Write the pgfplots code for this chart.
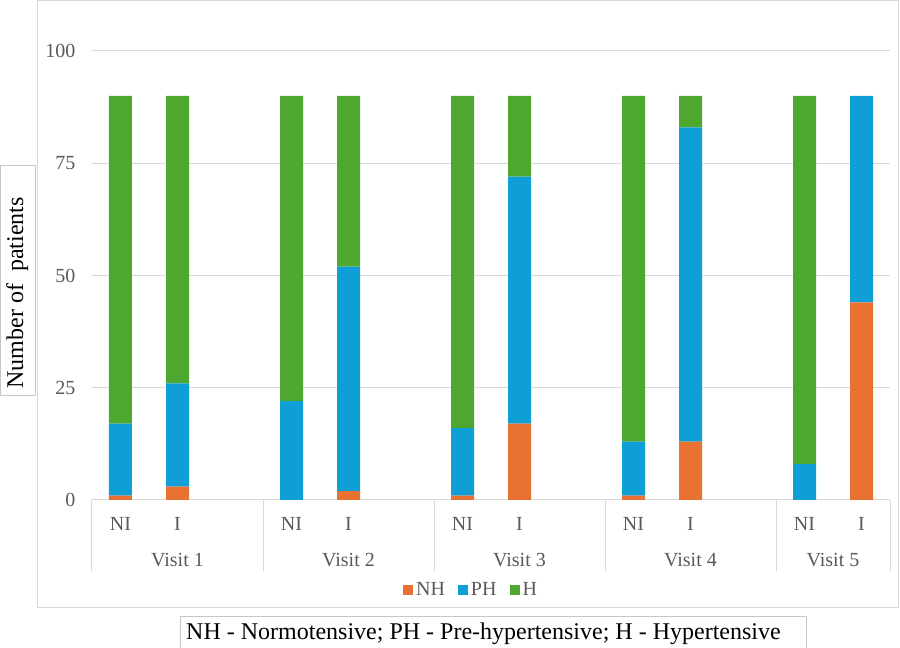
\documentclass[border=0pt]{standalone}
\usepackage{fontspec}
\setmainfont{Liberation Serif}
\usepackage{pgfplots}
\pgfplotsset{compat=1.18}
\definecolor{cNH}{HTML}{E97132}
\definecolor{cPH}{HTML}{0F9ED5}
\definecolor{cH}{HTML}{4EA72E}
\definecolor{tickgray}{HTML}{595959}
\definecolor{gridgray}{HTML}{D9D9D9}
\begin{document}
\begin{tikzpicture}
\useasboundingbox (-69pt,-111pt) rectangle (606pt,375pt);
\draw[gridgray, line width=0.75pt] (-40.5pt,-81pt) rectangle (605pt,374.6pt);
\begin{axis}[
  at={(0pt,0pt)}, anchor=south west,
  scale only axis, width=598.5pt, height=336.75pt,
  ybar stacked, bar width=17.25pt,
  xmin=-0.5, xmax=13.5, ymin=0, ymax=100,
  clip=false,
  ytick={0,25,50,75,100},
  xtick={0,1,3,4,6,7,9,10,12,13},
  xticklabels={NI,I,NI,I,NI,I,NI,I,NI,I},
  axis line style={draw=none},
  major tick length=0pt,
  ymajorgrids,
  grid style={gridgray, line width=0.75pt},
  yticklabel style={font=\fontsize{15pt}{18pt}\selectfont, text=tickgray, xshift=-9pt},
  xticklabel style={font=\fontsize{15pt}{18pt}\selectfont, text=tickgray, anchor=center, yshift=-18pt},
  /pgf/number format/assume math mode=true,
  legend style={at={(0.4756,-0.201)}, anchor=center, draw=none, fill=none,
    font=\fontsize{15pt}{18pt}\selectfont, text=tickgray,
    /tikz/every even column/.append style={column sep=8pt},
    inner sep=0pt},
  legend columns=3,
  legend image code/.code={\fill[#1] (0pt,-3.75pt) rectangle (7.5pt,3.75pt);},
]
\addplot[fill=cNH, draw=none] coordinates {(0,1) (1,3) (3,0) (4,2) (6,1) (7,17) (9,1) (10,13) (12,0) (13,44)};
\addplot[fill=cPH, draw=none] coordinates {(0,16) (1,23) (3,22) (4,50) (6,15) (7,55) (9,12) (10,70) (12,8) (13,46)};
\addplot[fill=cH, draw=none] coordinates {(0,73) (1,64) (3,68) (4,38) (6,74) (7,18) (9,77) (10,7) (12,82) (13,0)};
\legend{NH,PH,H}
\pgfplotsinvokeforeach{-0.5,2.5,5.5,8.5,11.5,13.5}{
  \draw[gridgray, line width=0.75pt] (axis cs:#1,0) -- ++(0pt,-53.25pt);
}
\node[font=\fontsize{15pt}{18pt}\selectfont, text=tickgray] at ([yshift=-45pt]axis cs:1,0) {Visit 1};
\node[font=\fontsize{15pt}{18pt}\selectfont, text=tickgray] at ([yshift=-45pt]axis cs:4,0) {Visit 2};
\node[font=\fontsize{15pt}{18pt}\selectfont, text=tickgray] at ([yshift=-45pt]axis cs:7,0) {Visit 3};
\node[font=\fontsize{15pt}{18pt}\selectfont, text=tickgray] at ([yshift=-45pt]axis cs:10,0) {Visit 4};
\node[font=\fontsize{15pt}{18pt}\selectfont, text=tickgray] at ([yshift=-45pt]axis cs:12.5,0) {Visit 5};
\end{axis}
\draw[gridgray!80!gray, line width=0.75pt] (-68.25pt,78pt) rectangle (-42pt,250.5pt);
\node[rotate=90, font=\fontsize{18pt}{21pt}\selectfont, text=black] at (-56pt,155.25pt) {Number of~ patients};
\draw[gridgray!80!gray, line width=0.75pt] (66pt,-120pt) rectangle (536pt,-87.75pt);
\node[font=\fontsize{18pt}{21pt}\selectfont, text=black] at (293.6pt,-100.5pt) {NH - Normotensive; PH - Pre-hypertensive; H - Hypertensive};
\end{tikzpicture}
\end{document}
